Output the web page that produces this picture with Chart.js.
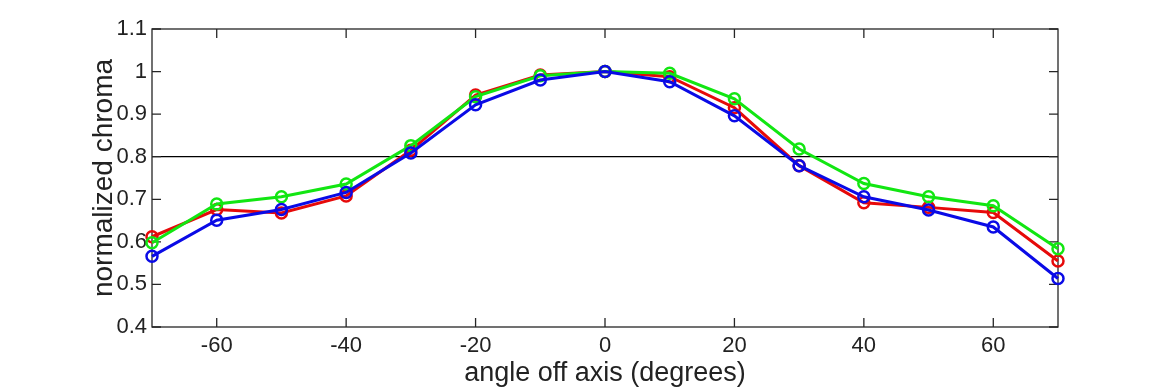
<!DOCTYPE html>
<html>
<head>
<meta charset="utf-8">
<script src="https://cdn.jsdelivr.net/npm/chart.js@4.4.0/dist/chart.umd.min.js"></script>
<style>
  body{margin:0;background:#fff;}
  #wrap{width:1170px;height:390px;}
</style>
</head>
<body>
<div id="wrap"><canvas id="chroma"></canvas></div>
<script>
var angles=[-70,-60,-50,-40,-30,-20,-10,0,10,20,30,40,50,60,70]
var redVals=[0.612,0.676,0.668,0.708,0.815,0.945,0.992,1.0,0.988,0.915,0.779,0.692,0.681,0.669,0.555]
var greenVals=[0.598,0.689,0.706,0.736,0.826,0.941,0.990,1.0,0.996,0.936,0.818,0.737,0.706,0.685,0.584]
var blueVals=[0.566,0.651,0.676,0.716,0.809,0.922,0.980,1.0,0.976,0.896,0.779,0.706,0.675,0.635,0.514]
var xTicks=[-60,-40,-20,0,20,40,60]
var yTicks=[0.4,0.5,0.6,0.7,0.8,0.9,1.0,1.1]
var refLine=0.8

var FONT="'Liberation Sans',Arial,sans-serif"

function pts(vals){
  let out=[]
  for(let i=0;i<angles.length;i++){
    out.push({x:angles[i],y:vals[i]})
  }
  return out
}

function lineSet(label,vals,color){
  return {
    label:label,
    data:pts(vals),
    borderColor:color,
    backgroundColor:'rgba(0,0,0,0)',
    borderWidth:3,
    pointRadius:5.5,
    pointBorderWidth:2.5,
    pointBackgroundColor:'rgba(0,0,0,0)',
    pointBorderColor:color,
    tension:0,
    clip:false
  }
}

// frame, inward ticks and the 0.8 reference line
const boxPlugin={
  id:'box',
  beforeDatasetsDraw(chart){
    const ctx=chart.ctx, a=chart.chartArea, ys=chart.scales.y
    const yy=ys.getPixelForValue(refLine)
    ctx.save()
    ctx.strokeStyle='#000'
    ctx.lineWidth=1.3
    ctx.beginPath()
    ctx.moveTo(a.left,yy)
    ctx.lineTo(a.right,yy)
    ctx.stroke()
    ctx.restore()
  },
  beforeDatasetDraw(chart,args){
    // frame goes under the first drawn line so the edge markers sit on top
    if(args.index!==chart.data.datasets.length-1) return
    const ctx=chart.ctx, a=chart.chartArea
    const xs=chart.scales.x, ys=chart.scales.y
    const len=9
    ctx.save()
    ctx.strokeStyle='#262626'
    ctx.lineWidth=1.3
    ctx.strokeRect(a.left,a.top,a.right-a.left,a.bottom-a.top)
    ctx.beginPath()
    for(let v of xTicks){
      let px=xs.getPixelForValue(v)
      ctx.moveTo(px,a.bottom);ctx.lineTo(px,a.bottom-len)
      ctx.moveTo(px,a.top);ctx.lineTo(px,a.top+len)
    }
    for(let v of yTicks){
      let py=ys.getPixelForValue(v)
      ctx.moveTo(a.left,py);ctx.lineTo(a.left+len,py)
      ctx.moveTo(a.right,py);ctx.lineTo(a.right-len,py)
    }
    ctx.stroke()
    ctx.restore()
  }
}

const config={
  type:'line',
  data:{
    datasets:[
      lineSet('blue',blueVals,'#0a0ae6'),
      lineSet('green',greenVals,'#12e612'),
      lineSet('red',redVals,'#e60a0a')
    ]
  },
  options:{
    responsive:true,
    maintainAspectRatio:false,
    animation:false,
    layout:{padding:{left:87,right:112,top:29,bottom:0}},
    plugins:{legend:{display:false},tooltip:{enabled:false}},
    scales:{
      x:{
        type:'linear',
        min:-70,max:70,
        grid:{display:false,drawTicks:false},
        border:{display:false},
        afterBuildTicks(scale){scale.ticks=xTicks.map(v=>({value:v}))},
        afterFit(scale){scale.height=63},
        ticks:{color:'#222',font:{family:FONT,size:22},padding:6,maxRotation:0,
          callback:(v)=>String(v)},
        title:{display:true,text:'angle off axis (degrees)',color:'#222',
          font:{family:FONT,size:27},padding:{top:0,bottom:0}}
      },
      y:{
        min:0.4,max:1.1,
        grid:{display:false,drawTicks:false},
        border:{display:false},
        afterBuildTicks(scale){scale.ticks=yTicks.map(v=>({value:v}))},
        afterFit(scale){scale.width=65},
        ticks:{color:'#222',font:{family:FONT,size:22},padding:5,
          callback:(v)=>String(Number(v.toFixed(1)))},
        title:{display:true,text:'normalized chroma',color:'#222',
          font:{family:FONT,size:28},padding:{top:0,bottom:0}}
      }
    }
  },
  plugins:[boxPlugin]
}

const graphe=new Chart(document.getElementById("chroma"),config)
</script>
</body>
</html>
